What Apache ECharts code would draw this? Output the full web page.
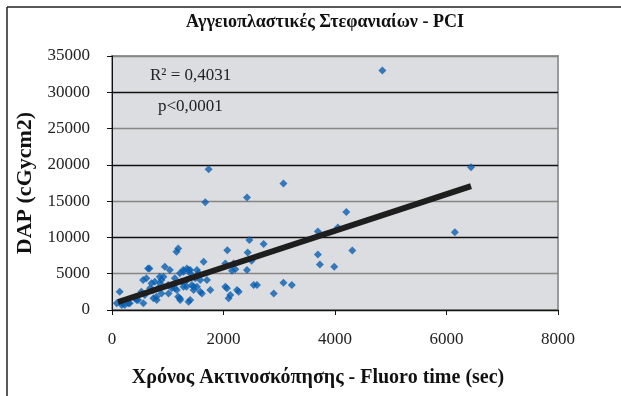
<!DOCTYPE html>
<html>
<head>
<meta charset="utf-8">
<script src="https://cdn.jsdelivr.net/npm/echarts@6/dist/echarts.min.js"></script>
<style>
  html, body { margin: 0; padding: 0; background: #fff; }
  #chart { width: 621px; height: 396px; }
</style>
</head>
<body>
<div id="chart"></div>
<script>
// Fluoro time (sec) vs DAP (cGycm2)
const points = [
  [85, 920], [138, 2520], [168, 1140], [175, 690], [228, 690], [293, 920], [318, 920],
  [408, 1610], [443, 1375], [468, 1375], [527, 2520], [558, 4130], [563, 920], [588, 2060],
  [617, 4360], [647, 5730], [671, 5730], [683, 2980], [707, 3670], [737, 2750], [743, 1610],
  [768, 3900], [797, 1830], [803, 1375], [827, 2980], [857, 4580], [863, 3670], [887, 4130],
  [887, 2290], [923, 4580], [947, 5960], [1007, 3440], [1013, 2290], [1037, 5500], [1073, 2980],
  [1097, 3440], [1127, 4360], [1127, 2980], [1157, 8020], [1163, 2750], [1187, 8480], [1187, 1830],
  [1217, 1610], [1217, 5050], [1223, 1375], [1253, 3900], [1277, 5500], [1283, 3200], [1283, 5270],
  [1307, 3900], [1337, 3200], [1343, 5730], [1343, 4130], [1373, 5500], [1373, 1140], [1403, 1375],
  [1403, 5500], [1403, 5050], [1433, 3440], [1463, 2750], [1463, 3200], [1493, 4360], [1523, 3200],
  [1523, 5500], [1553, 5050], [1583, 2520], [1583, 4130], [1613, 2290], [1643, 6650], [1673, 14860],
  [1703, 4130], [1733, 19400], [1763, 2750], [2033, 3200], [2033, 6420], [2062, 2980], [2068, 8250],
  [2092, 1610], [2122, 2060], [2153, 5410], [2182, 6420], [2212, 5600], [2243, 2750], [2272, 2520],
  [2422, 15500], [2422, 5500], [2434, 7930], [2464, 9630], [2505, 6780], [2541, 3440], [2601, 3440],
  [2720, 9080], [2901, 2290], [3075, 17430], [3075, 3760], [3225, 3440], [3693, 10820], [3693, 7660],
  [3729, 6280], [3987, 5960], [4052, 11370], [4203, 13520], [4311, 8210], [4850, 33010],
  [6150, 10730], [6440, 19670]
]

// linear trend line end points
const trend = [[108, 1100], [6440, 17060]]

const xTicks = [0, 2000, 4000, 6000, 8000]
const yTicks = [0, 5000, 10000, 15000, 20000, 25000, 30000, 35000]

const serif = '"Liberation Serif", "DejaVu Serif", serif'

const chart = echarts.init(document.getElementById('chart'))

chart.setOption({
  animation: false,
  title: {
    text: 'Αγγειοπλαστικές Στεφανιαίων - PCI',
    left: 320,
    top: 8,
    textAlign: 'center',
    textStyle: { fontFamily: serif, fontSize: 18, fontWeight: 'bold', color: '#111' },
  },
  grid: {
    left: 112,
    right: 63,
    top: 56,
    bottom: 86,
    show: true,
    backgroundColor: '#dcdde0',
    borderColor: '#9a9a9a',
    borderWidth: 2,
  },
  xAxis: {
    type: 'value',
    min: xTicks[0],
    max: xTicks[xTicks.length - 1],
    interval: 2000,
    name: 'Χρόνος Ακτινοσκόπησης - Fluoro time (sec)',
    nameLocation: 'middle',
    nameGap: 58,
    nameTextStyle: {
      fontFamily: serif, fontSize: 20, fontWeight: 'bold', color: '#111',
      padding: [0, 34, 0, 0],
    },
    axisLine: { lineStyle: { color: '#111', width: 1 } },
    axisTick: { length: 5, lineStyle: { color: '#111' } },
    axisLabel: { fontFamily: serif, fontSize: 17, color: '#222', margin: 21, formatter: (v) => String(v) },
    splitLine: { show: false },
  },
  yAxis: {
    type: 'value',
    min: yTicks[0],
    max: yTicks[yTicks.length - 1],
    interval: 5000,
    name: 'DAP (cGycm2)',
    nameLocation: 'middle',
    nameGap: 74,
    nameTextStyle: { fontFamily: serif, fontSize: 22, fontWeight: 'bold', color: '#111' },
    axisLine: { show: true, lineStyle: { color: '#111', width: 1 } },
    axisTick: { show: true, length: 5, lineStyle: { color: '#111' } },
    axisLabel: { fontFamily: serif, fontSize: 17, color: '#222', margin: 22, formatter: (v) => String(v) },
    splitLine: { show: true, lineStyle: { color: ['#111', '#858585'], width: 1.4 } },
  },
  graphic: [
    { type: 'line', shape: { x1: 7, y1: 7, x2: 621, y2: 7 }, style: { stroke: '#222', lineWidth: 1.5 } },
    { type: 'line', shape: { x1: 7, y1: 7, x2: 7, y2: 396 }, style: { stroke: '#222', lineWidth: 1.5 } },
    {
      type: 'text', left: 150, top: 67, z: 10,
      style: { text: 'R² = 0,4031', font: '17px ' + serif, fill: '#222' },
    },
    {
      type: 'text', left: 158, top: 98, z: 10,
      style: { text: 'p<0,0001', font: '17px ' + serif, fill: '#222' },
    },
  ],
  series: [
    {
      type: 'scatter',
      data: points,
      symbol: 'diamond',
      symbolSize: 8,
      itemStyle: { color: '#0a5fb0' },
      z: 2,
    },
    {
      type: 'line',
      data: trend,
      symbol: 'none',
      lineStyle: { color: '#1e1e1e', width: 6 },
      z: 3,
    },
  ],
})
</script>
</body>
</html>
